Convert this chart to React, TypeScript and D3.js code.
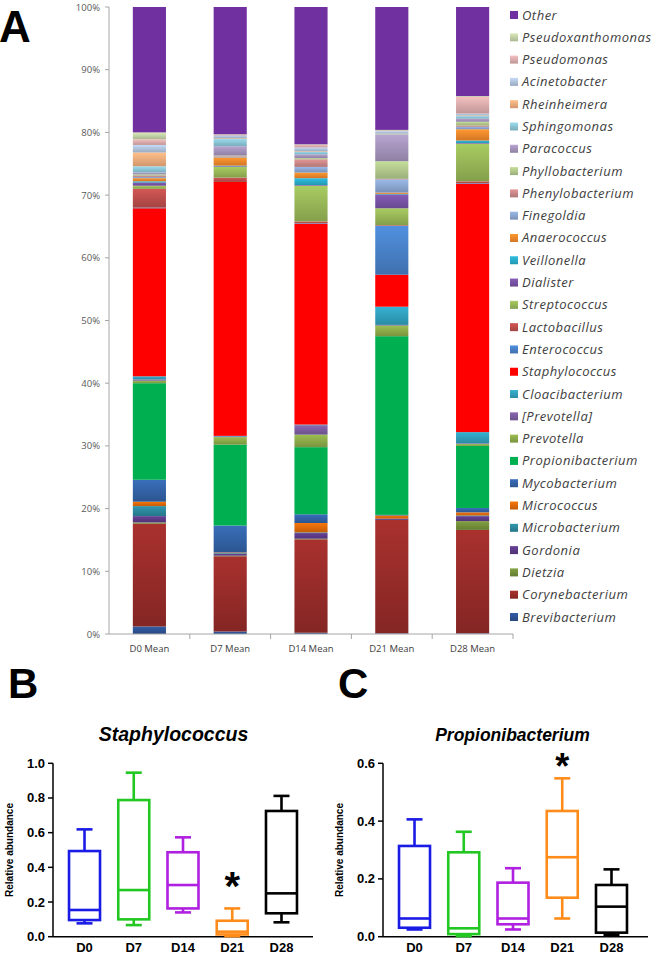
import React from 'react';
import * as d3 from 'd3';

// ---------- Panel A data ----------
const days = ["D0 Mean", "D7 Mean", "D14 Mean", "D21 Mean", "D28 Mean"];
const genera = [
  "Brevibacterium", "Corynebacterium", "Dietzia", "Gordonia", "Microbacterium",
  "Micrococcus", "Mycobacterium", "Propionibacterium", "Prevotella", "[Prevotella]",
  "Cloacibacterium", "Staphylococcus", "Enterococcus", "Lactobacillus", "Streptococcus",
  "Dialister", "Veillonella", "Anaerococcus", "Finegoldia", "Phenylobacterium",
  "Phyllobacterium", "Paracoccus", "Sphingomonas", "Rheinheimera", "Acinetobacter",
  "Pseudomonas", "Pseudoxanthomonas", "Other",
];
const d0Values = [1.2, 16.4, 0.2, 1.0, 1.6, 0.7, 3.5, 15.4, 0.4, 0.2, 0.5, 26.8, 0.1, 3.0, 0.5, 0.5, 0.2, 0.5, 0.2, 0.2, 0.2, 0.3, 1.0, 2.2, 1.2, 0.9, 1.1, 20.0];
const d7Values = [0.4, 12.0, 0.1, 0.3, 0.1, 0.1, 4.3, 12.9, 1.2, 0.1, 0.1, 40.5, 0.0, 0.7, 1.7, 0.1, 0.1, 1.3, 0.1, 0.1, 0.1, 1.5, 1.2, 0.1, 0.4, 0.1, 0.1, 20.3];
const d14Values = [0.2, 14.9, 0.1, 0.9, 0.1, 1.5, 1.4, 10.7, 2.0, 1.5, 0.1, 32.0, 0.1, 0.3, 5.7, 0.1, 1.1, 0.9, 0.9, 1.2, 0.2, 0.6, 0.4, 0.1, 0.6, 0.4, 0.1, 21.9];
const d21Values = [0.1, 18.1, 0.0, 0.2, 0.0, 0.5, 0.1, 28.5, 1.7, 0.1, 2.9, 5.1, 7.8, 0.1, 2.7, 2.2, 0.1, 0.2, 2.1, 0.1, 2.8, 4.2, 0.1, 0.1, 0.4, 0.1, 0.1, 19.6];
const d28Values = [0.1, 16.5, 1.4, 0.8, 0.1, 0.5, 0.7, 9.9, 0.3, 0.1, 1.8, 39.6, 0.1, 0.3, 6.0, 0.1, 0.4, 1.8, 0.4, 0.2, 0.6, 0.5, 0.4, 0.1, 0.3, 2.7, 0.1, 14.2];
const percentTicks = [0, 0.1, 0.2, 0.3, 0.4, 0.5, 0.6, 0.7, 0.8, 0.9, 1.0];

const generaColors = [
  "#2f5597", "#9b2d2a", "#77933c", "#5f3b8a", "#2c8aa0",
  "#e46c0a", "#3465aa", "#00b050", "#8fae4a", "#7e5fa3",
  "#31a3c0", "#ff0000", "#4a84cc", "#c0504d", "#9bbb59",
  "#7b55a8", "#2ab0cf", "#f68b2c", "#8eaad6", "#d08a8a",
  "#b5cc8e", "#a896bf", "#8fcadb", "#f7b07f", "#b4c8e1",
  "#e0b0b0", "#c7d6aa", "#7030a0",
];
const solidGenera = ["Staphylococcus", "Propionibacterium", "Other"];

// ---------- Panels B / C data ----------
const boxDays = ["D0", "D7", "D14", "D21", "D28"];
// [min, q1, median, q3, max]
const staphStats = [
  [0.077, 0.096, 0.154, 0.494, 0.619],
  [0.067, 0.100, 0.269, 0.788, 0.946],
  [0.140, 0.163, 0.298, 0.487, 0.573],
  [0.003, 0.013, 0.029, 0.092, 0.163],
  [0.083, 0.135, 0.250, 0.725, 0.812],
];
const propStats = [
  [0.025, 0.031, 0.063, 0.314, 0.406],
  [0.002, 0.009, 0.029, 0.292, 0.363],
  [0.025, 0.043, 0.063, 0.187, 0.237],
  [0.063, 0.135, 0.275, 0.435, 0.548],
  [0.006, 0.014, 0.104, 0.179, 0.233],
];
const staphTicks = [0, 0.2, 0.4, 0.6, 0.8, 1.0];
const propTicks = [0, 0.2, 0.4, 0.6];
const boxColors = ["#1b1be6", "#22c722", "#b020e0", "#ff8c1a", "#000000"];

const FONT_A = "'Open Sans', 'DejaVu Sans', sans-serif";
const FONT_B = "'Liberation Sans', Arial, sans-serif";

function BoxPanel(props: {
  x0: number; x1: number; axisEnd: number; title: string; titleX: number; titleSize: number;
  stats: number[][]; yMax: number; ticks: number[]; starIdx: number; starY: number; starSize: number;
}) {
  const { x0, x1, axisEnd, title, titleX, titleSize, stats, yMax, ticks, starIdx, starY, starSize } = props;
  const yTop = 763.3, yBot = 936.7;
  const y = d3.scaleLinear().domain([0, yMax]).range([yBot, yTop]);
  const x = d3.scalePoint().domain(boxDays).range([x0, x1]).padding(0.64);
  const bw = 31;
  const cap = 16;
  return (
    <g>
      <text x={titleX} y={741} textAnchor="middle" fontFamily={FONT_B}
        fontWeight="bold" fontStyle="italic" fontSize={titleSize}>{title}</text>
      <text transform={`translate(${x0 - 40},${(yTop + yBot) / 2}) rotate(-90)`} textAnchor="middle"
        fontFamily={FONT_B} fontWeight="bold" fontSize={10}>Relative abundance</text>
      <line x1={x0} x2={x0} y1={yTop} y2={yBot} stroke="#000" strokeWidth={1.5} />
      <line x1={x0} x2={axisEnd} y1={yBot} y2={yBot} stroke="#000" strokeWidth={1.5} />
      {ticks.map((t) => (
        <g key={t}>
          <line x1={x0 - 5} x2={x0} y1={y(t)} y2={y(t)} stroke="#000" strokeWidth={1.5} />
          <text x={x0 - 8} y={y(t) + 4.5} textAnchor="end" fontFamily={FONT_B} fontWeight="bold"
            fontSize={13}>{d3.format(".1f")(t)}</text>
        </g>
      ))}
      {boxDays.map((d, i) => {
        const [mn, q1, md, q3, mx] = stats[i];
        const cx = x(d)!;
        const c = boxColors[i];
        return (
          <g key={d} stroke={c} strokeWidth={2.6} fill="none">
            <line x1={cx} x2={cx} y1={y(q3)} y2={y(mx)} />
            <line x1={cx - cap / 2} x2={cx + cap / 2} y1={y(mx)} y2={y(mx)} />
            <line x1={cx} x2={cx} y1={y(q1)} y2={y(mn)} />
            <line x1={cx - cap / 2} x2={cx + cap / 2} y1={y(mn)} y2={y(mn)} />
            <rect x={cx - bw / 2} y={y(q3)} width={bw} height={y(q1) - y(q3)} fill="#fff" />
            <line x1={cx - bw / 2} x2={cx + bw / 2} y1={y(md)} y2={y(md)} />
            <text x={cx} y={952} textAnchor="middle" fontFamily={FONT_B} fontWeight="bold"
              fontSize={13} fill="#000" stroke="none">{d}</text>
          </g>
        );
      })}
      <text x={x(boxDays[starIdx])!} y={starY} textAnchor="middle" fontFamily={FONT_B}
        fontWeight="bold" fontSize={starSize}>*</text>
    </g>
  );
}

export default function App() {
  const dayValues = [d0Values, d7Values, d14Values, d21Values, d28Values];
  const table = days.map((d, i) => {
    const row: any = { day: d };
    genera.forEach((g, j) => (row[g] = dayValues[i][j]));
    return row;
  });
  const series = d3.stack<any>().keys(genera).offset(d3.stackOffsetExpand)(table);
  const x = d3.scaleBand().domain(days).range([109, 513]).paddingInner(0.59).paddingOuter(0.295);
  const y = d3.scaleLinear().domain([0, 1]).range([634, 7]);
  const legendY = d3.scalePoint().domain(genera.slice().reverse()).range([15, 617]);
  const color = d3.scaleOrdinal<string, string>().domain(genera).range(generaColors);
  const step = x.step();

  return (
    <svg width={655} height={954} style={{ position: 'absolute', left: 0, top: 0, background: '#fff' }}>
      <defs>
        {genera.map((g, i) => {
          const c = color(g);
          const solid = solidGenera.includes(g);
          const top = solid ? c : d3.color(c)!.brighter(0.25).formatHex();
          const bot = solid ? c : d3.color(c)!.darker(0.45).formatHex();
          return (
            <linearGradient key={g} id={`grad${i}`} x1="0" y1="0" x2="0" y2="1">
              <stop offset="0" stopColor={top} />
              <stop offset="1" stopColor={bot} />
            </linearGradient>
          );
        })}
      </defs>
      <rect x={0} y={0} width={655} height={954} fill="#fff" />

      {/* Panel letters */}
      <text x={-1} y={42} fontFamily={FONT_B} fontWeight="bold" fontSize={44}>A</text>
      <text x={8} y={698} fontFamily={FONT_B} fontWeight="bold" fontSize={42}>B</text>
      <text x={338} y={698} fontFamily={FONT_B} fontWeight="bold" fontSize={42}>C</text>

      {/* Panel A bars */}
      {series.map((s, i) => (
        <g key={s.key} fill={`url(#grad${i})`}>
          {s.map((seg, j) => {
            const h = y(seg[0]) - y(seg[1]);
            if (h <= 0) return null;
            return (
              <rect key={j} x={x(days[j])!} y={y(seg[1])} width={x.bandwidth()} height={h} />
            );
          })}
        </g>
      ))}

      {/* Panel A axes */}
      <line x1={109} x2={109} y1={7} y2={634} stroke="#a6a6a6" strokeWidth={1} />
      <line x1={109} x2={513} y1={634} y2={634} stroke="#a6a6a6" strokeWidth={1} />
      {percentTicks.map((t) => (
        <g key={t}>
          <line x1={105} x2={109} y1={y(t)} y2={y(t)} stroke="#a6a6a6" />
          <text x={100} y={y(t) + 3.5} textAnchor="end" fontFamily={FONT_A} fontSize={9.5}
            fill="#595959">{d3.format(".0%")(t)}</text>
        </g>
      ))}
      {days.map((d, i) => (
        <g key={d}>
          <line x1={109 + step * (i + 1)} x2={109 + step * (i + 1)} y1={634} y2={639} stroke="#a6a6a6" />
          <text x={x(d)! + x.bandwidth() / 2} y={652} textAnchor="middle" fontFamily={FONT_A}
            fontSize={9.5} fill="#404040">{d}</text>
        </g>
      ))}

      {/* Legend */}
      {genera.map((g, i) => (
        <g key={g}>
          <rect x={510} y={legendY(g)! - 4} width={8} height={8} fill={`url(#grad${i})`} />
          <text x={522} y={legendY(g)! + 4.5} fontFamily={FONT_A} fontStyle="italic" fontSize={13}
            letterSpacing={0.5} fill="#404040">{g}</text>
        </g>
      ))}

      <BoxPanel x0={53} x1={313} axisEnd={313} title="Staphylococcus" titleX={173.5} titleSize={19.5}
        stats={staphStats} yMax={1} ticks={staphTicks} starIdx={3} starY={900} starSize={40} />
      <BoxPanel x0={383} x1={643} axisEnd={648} title="Propionibacterium" titleX={512.5} titleSize={17.5}
        stats={propStats} yMax={0.6} ticks={propTicks} starIdx={3} starY={779} starSize={36} />
    </svg>
  );
}
